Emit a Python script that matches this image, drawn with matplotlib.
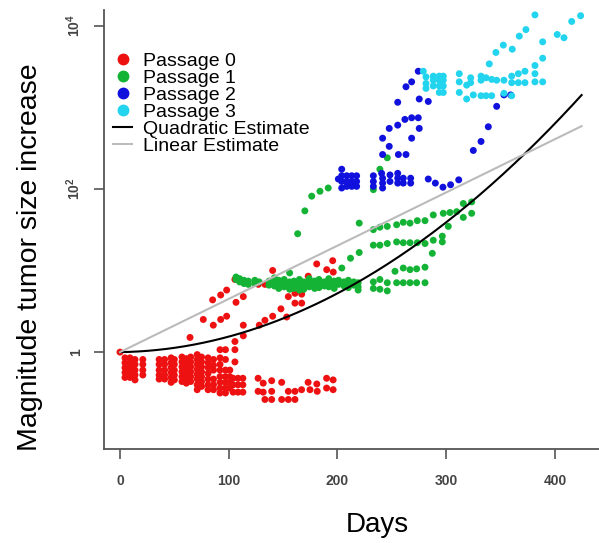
import numpy as np
import matplotlib
matplotlib.use("Agg")
import matplotlib.pyplot as plt
from matplotlib.lines import Line2D

plt.rcParams['font.family'] = ['Liberation Sans', 'DejaVu Sans']

# (day, log10 of magnitude increase)
passage0 = [
    (0, 0.0),
    (4.6, -0.07), (4.6, -0.13), (4.6, -0.19), (4.6, -0.25), (4.6, -0.31),
    (9.2, -0.07), (9.2, -0.13), (9.2, -0.19), (9.2, -0.25), (9.2, -0.31),
    (13.8, -0.09), (13.8, -0.15), (13.8, -0.22), (13.8, -0.28), (13.8, -0.34),
    (21, -0.09), (21, -0.15), (21, -0.22), (21, -0.28),
    (36, -0.09), (36, -0.15), (36, -0.22), (36, -0.28), (36, -0.33),
    (41, -0.09), (41, -0.15), (41, -0.22), (41, -0.28), (41, -0.33),
    (47, -0.07), (47, -0.13), (47, -0.19), (47, -0.25), (47, -0.31), (47, -0.37),
    (50, -0.09), (50, -0.15), (50, -0.22), (50, -0.28), (50, -0.34),
    (57, -0.06), (57, -0.12), (57, -0.18), (57, -0.24), (57, -0.30), (57, -0.36),
    (61, -0.08), (61, -0.14), (61, -0.20), (61, -0.26), (61, -0.32), (61, -0.38),
    (65, -0.06), (65, -0.12), (65, -0.18), (65, -0.24), (65, -0.30), (65, -0.36),
    (71, -0.03), (71, -0.09), (71, -0.15), (71, -0.21), (71, -0.27), (71, -0.33), (71, -0.40), (71, -0.46),
    (75, -0.06), (75, -0.12), (75, -0.18), (75, -0.24), (75, -0.30), (75, -0.36), (75, -0.42),
    (81, -0.07), (81, -0.13), (81, -0.19), (81, -0.26), (81, -0.33), (81, -0.40), (81, -0.46),
    (86, -0.09), (86, -0.16), (86, -0.22), (86, -0.33), (86, -0.40), (86, -0.46),
    (92, 0.03), (92, -0.07), (92, -0.15), (92, -0.22), (92, -0.30), (92, -0.37), (92, -0.44), (92, -0.50),
    (97, 0.03), (97, -0.09), (97, -0.22), (97, -0.30), (97, -0.37), (97, -0.44), (97, -0.50),
    (101, -0.22), (101, -0.30), (101, -0.37), (101, -0.44),
    (104, -0.32), (104, -0.40), (104, -0.49),
    (105.7, 0.13), (105.7, 0.03), (105.7, -0.12),
    (108.5, -0.32), (108.5, -0.40), (108.5, -0.49),
    (113, -0.32), (113, -0.40), (113, -0.49), (113.4, 0.20),
    (127, -0.32), (127, -0.48), (131.7, -0.38), (131.7, -0.49), (133.3, -0.58),
    (139.5, -0.35), (139.5, -0.48), (139.5, -0.58), (148.7, -0.37), (148.7, -0.58),
    (154.8, -0.48), (154.8, -0.58), (160.9, -0.48), (160.9, -0.58), (167, -0.46),
    (173, -0.37), (174.7, -0.46), (181, -0.39), (181.4, -0.48),
    (190, -0.32), (190, -0.44), (196, -0.34), (196, -0.46),
    (64.4, 0.18), (76.6, 0.40), (85.8, 0.33), (92.6, 0.40), (98.1, 0.44),
    (85.2, 0.64), (92.6, 0.70), (98.1, 0.76), (106.7, 0.61), (113.4, 0.68),
    (113.4, 0.33), (105.7, 0.89), (128.1, 0.33), (133.3, 0.39), (140.4, 0.44),
    (148, 0.53), (153.3, 0.43), (140.4, 1.00), (127.2, 0.83), (133.3, 0.83),
    (154.8, 0.68), (160.9, 0.72), (167.1, 0.71), (160.9, 0.60), (167.1, 0.60),
    (173.1, 0.93), (180.9, 1.08), (195.6, 1.12), (190.1, 1.01), (196.1, 0.98),
]

passage1 = [
    (106.7, 0.89), (106.7, 0.92), (110, 0.90), (110, 0.86), (114, 0.88), (114, 0.84),
    (118, 0.87), (118, 0.83), (124, 0.88), (124, 0.84), (128, 0.86),
    (137, 0.87), (137, 0.82), (142, 0.91), (142, 0.86), (142, 0.81),
    (146, 0.88), (146, 0.83), (146, 0.78), (151, 0.89), (151, 0.84), (151, 0.80),
    (156, 0.97), (156, 0.86), (156, 0.81), (156, 0.77), (160, 0.87), (160, 0.83), (160, 0.78),
    (165, 0.89), (165, 0.84), (165, 0.80), (165, 0.76), (169, 0.86), (169, 0.81), (169, 0.77),
    (174, 0.90), (174, 0.85), (174, 0.80), (179, 0.87), (179, 0.82), (179, 0.78),
    (183, 0.89), (183, 0.84), (183, 0.79), (188, 0.86), (188, 0.81),
    (192, 0.90), (192, 0.85), (192, 0.80), (197, 0.87), (197, 0.82), (197, 0.78),
    (201, 0.88), (201, 0.83), (206, 0.86), (206, 0.81),
    (210, 0.88), (210, 0.84), (210, 0.79), (215, 0.86), (215, 0.82),
    (219, 0.85), (219, 0.80), (219, 0.76),
    (163.4, 1.45), (170, 1.73), (176.3, 1.91), (183.9, 1.97), (191.5, 2.01),
    (233, 1.99), (239, 2.24), (245.8, 2.38),
    (204, 1.03), (212, 1.15), (220, 1.22), (220, 1.58),
    (233, 1.50), (239, 1.53), (245.8, 1.54), (254.4, 1.56), (260.5, 1.59), (266.7, 1.58),
    (273.4, 1.61), (280.5, 1.61), (288.1, 1.68), (297.3, 1.70), (303.4, 1.71), (309.6, 1.72),
    (315.7, 1.82), (323.4, 1.84), (301.9, 1.54), (315.7, 1.65), (323.4, 1.70),
    (233, 1.31), (239, 1.31), (245.8, 1.33), (254.4, 1.35), (260.5, 1.34), (266.7, 1.34),
    (273.4, 1.34), (280.5, 1.33), (288.1, 1.37), (296.4, 1.42), (296.4, 1.35), (287.2, 1.21),
    (252.9, 0.99), (260.5, 1.03), (266.7, 1.01), (272.8, 1.02), (280.5, 1.04),
    (233, 0.86), (239, 0.89), (245.8, 0.85), (254.4, 0.85), (260.5, 0.85), (266.7, 0.85),
    (272.8, 0.85), (280.5, 0.85), (239, 0.77), (245.8, 0.75), (233, 0.78),
]

passage2 = [
    (200.8, 2.12), (203.9, 2.24), (203.9, 2.16), (203.9, 2.09), (203.9, 2.01),
    (208.5, 2.16), (208.5, 2.09), (208.5, 2.03), (213.1, 2.16), (213.1, 2.09), (213.1, 2.03),
    (217.6, 2.16), (217.6, 2.09), (217.6, 2.03),
    (233, 2.16), (233, 2.09), (233, 2.03), (240.6, 2.19), (241.5, 2.13), (241.5, 2.07),
    (241.5, 2.01), (248.3, 2.17), (248.3, 2.09), (255.4, 2.19), (255.4, 2.13), (255.4, 2.07),
    (260.5, 2.13), (260.5, 2.07), (267.3, 2.13), (267.3, 2.07),
    (283.5, 2.12), (290, 2.07), (297, 2.02), (304, 2.05), (311.5, 2.11),
    (324.9, 2.47), (332, 2.58), (338.7, 2.76), (346.4, 3.01), (353.1, 3.15), (359.3, 3.15),
    (241.5, 2.62), (247.6, 2.52), (241.5, 2.42), (247.6, 2.74), (255.4, 2.78), (262, 2.85),
    (268.2, 2.87), (274.3, 2.87), (275.2, 2.74), (268.2, 2.62), (256, 2.42), (263, 2.42),
    (255.4, 3.06), (263, 3.25), (268.2, 3.31), (275.2, 3.10), (283.5, 3.07), (274.3, 3.44),
]

passage3 = [
    (278.9, 3.44), (281.4, 3.37), (281.4, 3.29), (281.4, 3.23),
    (288.1, 3.38), (288.1, 3.33), (288.1, 3.26), (293.6, 3.38), (293.6, 3.33), (293.6, 3.26),
    (297.3, 3.38), (297.3, 3.33), (297.3, 3.26), (293.6, 3.18), (297.3, 3.18),
    (312, 3.41), (312, 3.31), (312, 3.18), (318.8, 3.27), (318.8, 3.10),
    (322.5, 3.36), (322.5, 3.30), (324.9, 3.15), (332, 3.38), (332, 3.33), (332, 3.14),
    (336.6, 3.36), (336.6, 3.14), (341.8, 3.34), (341.8, 3.14), (346.4, 3.33),
    (353.1, 3.33), (353.1, 3.17), (360.2, 3.38), (360.2, 3.30), (360.2, 3.14),
    (366.3, 3.41), (366.3, 3.30), (372.4, 3.44), (372.4, 3.30), (381.6, 3.41), (381.6, 3.31),
    (388.7, 3.31), (339.6, 3.53), (345.7, 3.67), (352.5, 3.76), (360.7, 3.71), (367.2, 3.87),
    (373.3, 3.95), (381.6, 4.13), (388.7, 3.80), (388.7, 3.60), (381.6, 3.51),
    (402.1, 3.89), (408.3, 3.85), (415.4, 4.05), (423.6, 4.12),
]

# fitted estimates on log10 scale: log10(y) = a*d^2 + b*d
quad_coef = [1.7e-5, 2.0e-4, 0.0]
lin_slope = 0.00652
fit_end = 424.5

labels = ['Passage 0', 'Passage 1', 'Passage 2', 'Passage 3']
colors = ['#EE1111', '#15B335', '#1111DD', '#22D4EE']

fig = plt.figure(figsize=(5.99, 5.43), dpi=100)
ax = fig.add_axes([104 / 599, 1 - 449.3 / 543, 495 / 599, 439.3 / 543])

for pts, col in zip([passage0, passage1, passage2, passage3], colors):
    d, v = zip(*pts)
    ax.scatter(d, 10 ** np.array(v), s=25, c=col, edgecolors='none', zorder=2)

dd = np.linspace(0, fit_end, 200)
ax.plot(dd, 10 ** np.polyval(quad_coef, dd), color='black', lw=1.5, zorder=3)
ax.plot(dd, 10 ** (lin_slope * dd), color='#BBBBBB', lw=1.5, zorder=3)

ax.set_yscale('log')
ax.set_xlim(-14.7, 440.5)
ax.set_ylim(10 ** -1.19, 10 ** 4.19)
ax.spines['top'].set_visible(False)
ax.spines['right'].set_visible(False)
for s in ['left', 'bottom']:
    ax.spines[s].set_color('#555555')
    ax.spines[s].set_linewidth(1.3)

ax.set_xticks([0, 100, 200, 300, 400])
ax.set_yticks([1, 1e2, 1e4])
ax.set_yticklabels(['1', r'$\mathregular{10^{2}}$', r'$\mathregular{10^{4}}$'])
ax.minorticks_off()
ax.tick_params(axis='both', length=7, width=1.2, color='#555555',
               labelsize=10, labelcolor='#444444')
ax.tick_params(axis='x', pad=11)
ax.tick_params(axis='y', pad=8, labelrotation=90)
for t in ax.get_xticklabels() + ax.get_yticklabels():
    t.set_fontweight('bold')
for t in ax.get_yticklabels():
    t.set_va('center')

fig.text(377 / 599, 1 - 525 / 543, 'Days', fontsize=20, ha='center', va='center')
fig.text(30 / 599, 1 - 257 / 543, 'Magnitude tumor size increase', fontsize=20.5,
         rotation=90, ha='center', va='center')

handles = [Line2D([], [], marker='o', ls='none', ms=7.5, color=c) for c in colors]
handles += [Line2D([], [], color='black', lw=1.5), Line2D([], [], color='#BBBBBB', lw=1.5)]
ax.legend(handles, labels + ['Quadratic Estimate', 'Linear Estimate'],
          loc='upper left', bbox_to_anchor=(113 / 599, 1 - 52 / 543),
          bbox_transform=fig.transFigure, frameon=False, fontsize=14,
          handlelength=1.0, handletextpad=0.55, labelspacing=-0.03,
          borderpad=0, borderaxespad=0)

fig.savefig('out.png', dpi=100)
